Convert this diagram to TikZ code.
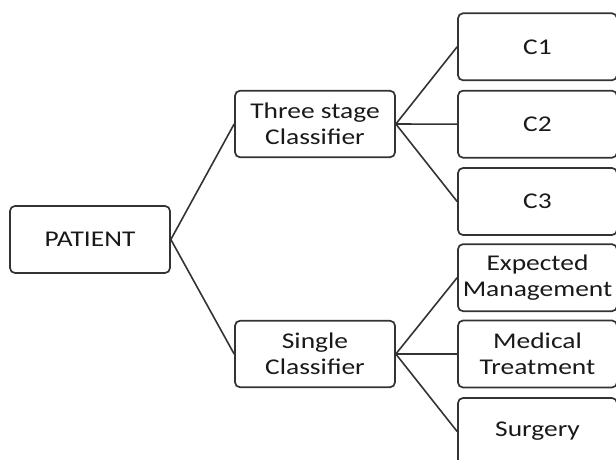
\documentclass[tikz,border=0pt]{standalone}
\usepackage{fontspec}
\setmainfont[FakeStretch=1.22]{Carlito}
\begin{document}
\begin{tikzpicture}[x=1pt,y=-1pt,
  box/.style={draw=black!80, line width=1.7pt, rounded corners=5pt, align=center,
    inner sep=0pt, font=\fontsize{22.5}{26}\selectfont, text=black!90},
  midbox/.style={box, minimum width=160pt, minimum height=66.5pt},
  leafbox/.style={box, minimum width=159pt, minimum height=67pt},
  conn/.style={draw=black!80, line width=1.6pt}]
\useasboundingbox (0,0) rectangle (616,460);
\clip (0,0) rectangle (616,460);
\node[box, minimum width=160pt, minimum height=67pt] (patient) at (90,239.5) {PATIENT};
\node[midbox] (three) at (315,124) {Three stage\\Classifier};
\node[midbox] (single) at (315,354) {Single\\Classifier};
\node[leafbox] (c1) at (537.5,46.8) {C1};
\node[leafbox] (c2) at (537.5,124.2) {C2};
\node[leafbox] (c3) at (537.5,201.5) {C3};
\node[leafbox] (em) at (537.5,277.7) {Expected\\Management};
\node[leafbox] (mt) at (537.5,354) {Medical\\Treatment};
\node[leafbox] (su) at (537.5,431.5) {Surgery};
\draw[conn] (patient.east) -- (three.west);
\draw[conn] (patient.east) -- (single.west);
\draw[conn] (three.east) -- (c1.west);
\draw[conn] (three.east) -- (c2.west);
\draw[conn] (three.east) -- (c3.west);
\draw[conn] (single.east) -- (em.west);
\draw[conn] (single.east) -- (mt.west);
\draw[conn] (single.east) -- (su.west);
\end{tikzpicture}
\end{document}
